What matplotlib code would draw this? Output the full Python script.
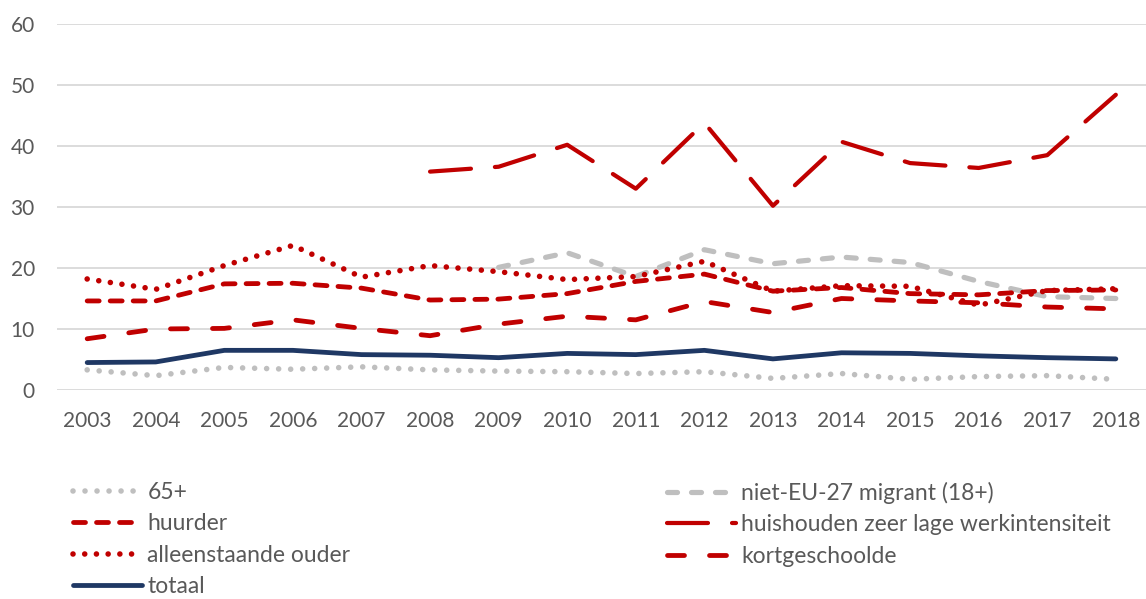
import matplotlib
matplotlib.use("Agg")
import matplotlib.pyplot as plt
import numpy as np

plt.rcParams['font.family'] = ['Lato', 'DejaVu Sans']
plt.rcParams['lines.scale_dashes'] = False

years = list(range(2003, 2019))
years_2008 = list(range(2008, 2019))
years_2009 = list(range(2009, 2019))

plus65 = [3.3, 2.35, 3.7, 3.4, 3.8, 3.3, 3.1, 3.0, 2.7, 3.0, 1.9, 2.7, 1.75, 2.2, 2.35, 1.75]
niet_eu = [20.1, 22.5, 18.6, 23.0, 20.7, 21.8, 20.9, 17.8, 15.3, 15.0]
huurder = [14.6, 14.6, 17.4, 17.5, 16.7, 14.75, 14.9, 15.8, 17.8, 19.0, 16.2, 16.8, 15.8, 15.6, 16.3, 16.4]
werkint = [35.8, 36.6, 40.2, 33.0, 43.8, 30.2, 40.7, 37.2, 36.4, 38.5, 48.4]
alleen = [18.2, 16.5, 20.4, 23.7, 18.5, 20.4, 19.4, 18.1, 18.6, 21.1, 16.2, 17.1, 17.0, 13.9, 16.3, 16.6]
kort = [8.4, 10.0, 10.1, 11.5, 10.1, 8.9, 10.8, 12.1, 11.5, 14.5, 12.7, 15.0, 14.6, 14.3, 13.6, 13.3]
totaal = [4.5, 4.6, 6.5, 6.5, 5.8, 5.7, 5.3, 6.0, 5.8, 6.5, 5.1, 6.1, 6.0, 5.6, 5.3, 5.1]

RED = '#c00000'
GREY = '#bfbfbf'
NAVY = '#1f3864'
TXT = '#595959'
PX = 72 / 100.0  # points per pixel

W, H = 1146, 599
fig = plt.figure(figsize=(W / 100, H / 100), dpi=100)
left = 57 / W
bottom = (H - 390) / H
top = (H - 24) / H
ax = fig.add_axes([left, bottom, 1 - left, top - bottom])

def px(v):
    return v * PX

l_65, = ax.plot(years, plus65, color=GREY, lw=px(5.6), dash_capstyle='round', solid_capstyle='round',
                dashes=(0.01, px(12)), label='65+')
l_eu, = ax.plot(years_2009, niet_eu, color=GREY, lw=px(5.2), dash_capstyle='round',
                dashes=(px(10), px(14)), label='niet-EU-27 migrant (18+)')
l_hu, = ax.plot(years, huurder, color=RED, lw=px(4.8), dash_capstyle='round',
                dashes=(px(12), px(11)), label='huurder')
l_wi, = ax.plot(years_2008, werkint, color=RED, lw=px(4.2), dash_capstyle='round',
                dashes=(px(41), px(24)), label='huishouden zeer lage werkintensiteit')
l_al, = ax.plot(years, alleen, color=RED, lw=px(5.6), dash_capstyle='round',
                dashes=(0.01, px(11.7)), label='alleenstaande ouder')
l_ko, = ax.plot(years, kort, color=RED, lw=px(4.8), dash_capstyle='round',
                dashes=(px(17), px(25)), label='kortgeschoolde')
l_to, = ax.plot(years, totaal, color=NAVY, lw=px(4.8), solid_capstyle='round', label='totaal')

ax.set_xlim(2002.56, 2018.44)
ax.set_ylim(0, 60)
ax.set_yticks(range(0, 61, 10))
ax.set_xticks(years)
ax.set_xticklabels([str(y) for y in years])
ax.grid(axis='y', color='#d9d9d9', lw=1.3)
ax.set_axisbelow(True)
for s in ax.spines.values():
    s.set_visible(False)
ax.tick_params(axis='both', length=0, labelsize=15, colors=TXT)
ax.tick_params(axis='y', pad=16)
ax.tick_params(axis='x', pad=15)

leg_kw = dict(loc='upper left', frameon=False, fontsize=16.5, handlelength=3.0,
              handletextpad=0.25, labelspacing=0.45, borderpad=0, borderaxespad=0,
              labelcolor=TXT)
leg1 = fig.legend(handles=[l_65, l_hu, l_al, l_to], bbox_to_anchor=(73 / W, (H - 482) / H), **leg_kw)
leg2 = fig.legend(handles=[l_eu, l_wi, l_ko], bbox_to_anchor=(667 / W, (H - 482) / H), **leg_kw)

fig.savefig('out.png', dpi=100)
